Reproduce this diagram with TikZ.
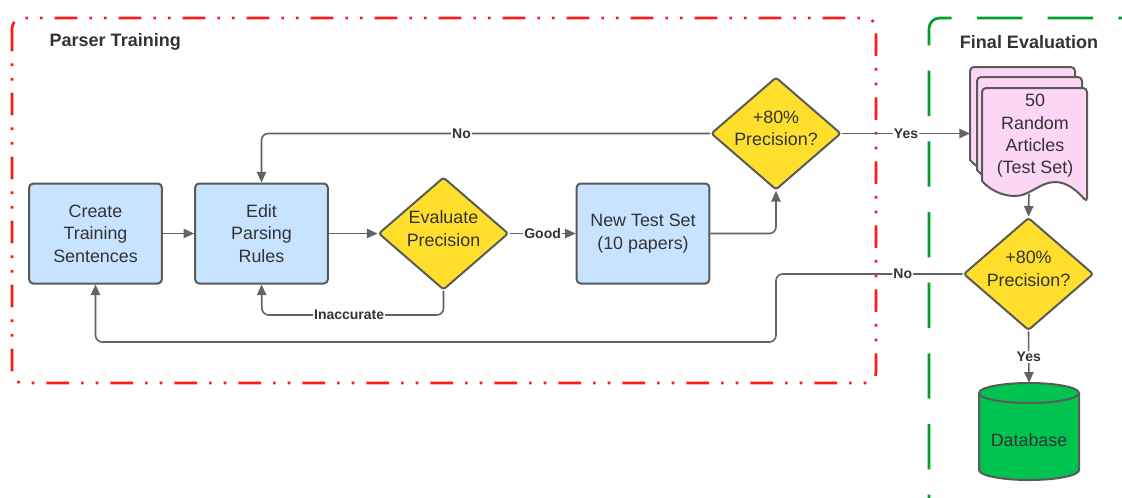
\documentclass[tikz,border=0pt]{standalone}
\usepackage{fontspec}
\setmainfont{Liberation Sans}
\usetikzlibrary{shapes.geometric,arrows.meta,calc}
\definecolor{boxblue}{HTML}{C7E3FF}
\definecolor{decyel}{HTML}{FFDF2C}
\definecolor{docpink}{HTML}{FDD5F5}
\definecolor{dbgreen}{HTML}{00C350}
\definecolor{edge}{HTML}{5A5A5A}
\definecolor{conncol}{HTML}{636363}
\definecolor{txt}{HTML}{333333}
\definecolor{framered}{HTML}{FF1A1A}
\definecolor{framegreen}{HTML}{00A02A}
\tikzset{
  maintext/.style={font=\fontsize{13.4}{16.8}\selectfont, text=txt, align=center},
  procbox/.style={maintext, rectangle, rounded corners=3pt, draw=edge, line width=1.5pt, fill=boxblue,
    minimum width=99.5pt, minimum height=75pt, inner sep=0pt},
  decbox/.style={diamond, rounded corners=2pt, draw=edge, line width=1.5pt, fill=decyel,
    minimum width=97.5pt, minimum height=84.5pt, inner sep=0pt},
  conn/.style={draw=conncol, line width=1.2pt, rounded corners=5pt},
  arr/.style={-{Triangle[length=8pt,width=7pt]}},
  lbl/.style={font=\fontsize{10.5}{12}\selectfont\bfseries, text=txt, fill=white, inner sep=0.8pt},
  titletext/.style={font=\fontsize{13.5}{16}\selectfont\bfseries, text=txt},
  docsheet/.style={draw=edge, line width=1.5pt, fill=docpink, rounded corners=3pt},
}
\begin{document}
\begin{tikzpicture}[x=0.75pt,y=-0.75pt]
\useasboundingbox (0,0) rectangle (1122,497);
\clip (0,0) rectangle (1122,497);
\fill[white] (0,0) rectangle (1122,497);

% frames
\draw[framered, line width=2pt, rounded corners=8pt,
  dash pattern=on 17pt off 9pt on 2pt off 9pt on 2pt off 9pt] (12,18) rectangle (876,383);
\draw[framegreen, line width=2pt, rounded corners=8pt,
  dash pattern=on 34pt off 19pt] (929,540) -- (929,18) -- (1160,18);

\node[titletext, anchor=west] (t1) at (45,42) {Parser Training};
\node[titletext] (t2) at (1029,42) {Final Evaluation};

% process nodes
\node[procbox] (create) at (95.5,233.5) {Create\\Training\\Sentences};
\node[procbox] (edit) at (261.5,233.5) {Edit\\Parsing\\Rules};
\node[decbox] (eval) at (443.5,233.5) {};
\node[maintext] (evalt) at (443.5,228.5) {Evaluate\\Precision};
\node[procbox] (newtest) at (643,233.5) {New Test Set\\(10 papers)};
\node[decbox] (prec1) at (776,133.5) {};
\node[maintext] (prec1t) at (776,128.5) {+80\%\\Precision?};
\node[decbox] (prec2) at (1028.5,274) {};
\node[maintext] (prec2t) at (1028.5,269) {+80\%\\Precision?};

% document stack
\foreach \dx/\dy in {-12/-21,-5/-11,0/0}{
  \begin{scope}[shift={(\dx,\dy)}]
  \draw[docsheet] (982,181) -- (982,88) -- (1087,88) -- (1087,202)
    [rounded corners=0pt] .. controls (1078,192) and (1068,182) .. (1055,182)
    .. controls (1040,182) and (1030,196) .. (1015,196)
    .. controls (1002,196) and (990,190) .. (982,181) -- cycle;
  \end{scope}
}
\node[maintext, inner sep=0pt] (doc) at (1035,136) {50\\Random\\Articles\\(Test Set)};
\coordinate (docin) at (970,133.5);
\coordinate (docout) at (1029,194);

% database
\draw[draw=edge, line width=1.5pt, fill=dbgreen] (979,393) -- (979,470)
  arc[start angle=180,end angle=360,x radius=37.5pt,y radius=7.5pt] -- (1079,393)
  arc[start angle=0,end angle=180,x radius=37.5pt,y radius=7.5pt] -- cycle;
\draw[draw=edge, line width=1.5pt] (979,393) arc[start angle=180,end angle=360,x radius=37.5pt,y radius=7.5pt];
\node[maintext, inner sep=0pt, minimum width=75pt, minimum height=72.75pt] (db) at (1029,431.5) {};
\node[maintext] (dbtext) at (1029,440) {Database};

% connectors
\draw[conn,arr] (create) -- (edit);
\draw[conn,arr] (edit) -- (eval);
\draw[conn,arr] (eval) -- node[lbl]{Good} (newtest);
\draw[conn,arr] (newtest.east) -| (prec1.south);
\draw[conn,arr] (prec1.west) -| node[lbl,pos=0.277]{No} (edit.north);
\draw[conn,arr] (prec1.east) -- node[lbl]{Yes} (docin);
\draw[conn,arr] (eval.south) |- node[lbl,pos=0.76]{Inaccurate} (262,315) -- (edit.south);
\coordinate (k1) at (776,342);
\draw[conn,arr] (prec2.west) -| node[lbl,pos=0.16]{No} (k1) -| (create.south);
\draw[conn,arr] (docout) -- (prec2.north);
\draw[conn,arr] (prec2.south) -- node[lbl]{Yes} (db.north);
\end{tikzpicture}
\end{document}
